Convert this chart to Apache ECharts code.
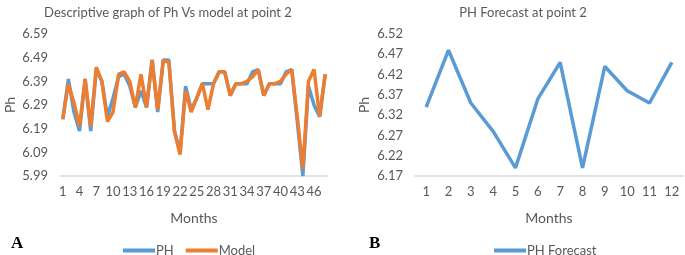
<!DOCTYPE html>
<html>
<head>
<meta charset="utf-8">
<script src="https://cdn.jsdelivr.net/npm/echarts@6/dist/echarts.min.js"></script>
<style>
  html, body { margin: 0; padding: 0; background: #fff; }
  #chart { width: 685px; height: 255px; }
</style>
</head>
<body>
<div id="chart"></div>
<script>
// left panel: measured pH vs model, 48 months
var monthsA = [];
for (var i = 1; i <= 48; i++) monthsA.push(String(i));
var phA = [6.23, 6.40, 6.26, 6.18, 6.40, 6.18, 6.44, 6.39, 6.24, 6.32,
           6.41, 6.42, 6.37, 6.28, 6.35, 6.28, 6.48, 6.26, 6.48, 6.48,
           6.18, 6.09, 6.37, 6.27, 6.32, 6.38, 6.38, 6.38, 6.43, 6.43,
           6.33, 6.38, 6.38, 6.38, 6.43, 6.44, 6.33, 6.38, 6.38, 6.38,
           6.43, 6.44, 6.22, 5.99, 6.37, 6.29, 6.24, 6.42];
var modelA = [6.23, 6.38, 6.30, 6.20, 6.40, 6.20, 6.45, 6.39, 6.22, 6.26,
              6.42, 6.43, 6.39, 6.28, 6.42, 6.28, 6.48, 6.27, 6.48, 6.47,
              6.18, 6.08, 6.35, 6.26, 6.32, 6.38, 6.27, 6.38, 6.43, 6.43,
              6.33, 6.38, 6.38, 6.39, 6.41, 6.44, 6.33, 6.38, 6.38, 6.39,
              6.42, 6.44, 6.24, 6.02, 6.39, 6.44, 6.24, 6.42];
var ticksA = [5.99, 6.09, 6.19, 6.29, 6.39, 6.49, 6.59];

// right panel: forecast, 12 months
var monthsB = ['1', '2', '3', '4', '5', '6', '7', '8', '9', '10', '11', '12'];
var forecastB = [6.34, 6.48, 6.35, 6.28, 6.19, 6.36, 6.45, 6.19, 6.44, 6.38, 6.35, 6.45];
var ticksB = [6.17, 6.22, 6.27, 6.32, 6.37, 6.42, 6.47, 6.52];

var font = 'Lato, "Open Sans", sans-serif';
var grey = '#595959';

function xAxisOf(idx, data, labelInterval) {
    return {
        type: 'category',
        gridIndex: idx,
        data: data,
        boundaryGap: true,
        name: 'Months',
        nameLocation: 'middle',
        nameGap: 35,
        nameTextStyle: { color: grey, fontSize: 14, fontFamily: font },
        axisLine: { lineStyle: { color: '#d9d9d9', width: 1.5 } },
        axisTick: { show: false },
        axisLabel: { interval: labelInterval, color: grey, fontSize: 13, fontFamily: font, margin: 9 }
    };
}

function yAxisOf(idx, ticks, gap) {
    return {
        type: 'value',
        gridIndex: idx,
        min: ticks[0],
        max: ticks[ticks.length - 1],
        name: 'Ph',
        nameLocation: 'middle',
        nameRotate: 90,
        nameGap: gap,
        nameTextStyle: { color: grey, fontSize: 14, fontFamily: font },
        axisLine: { show: false },
        axisTick: { show: false },
        splitLine: { show: false },
        axisLabel: {
            customValues: ticks,
            color: grey, fontSize: 13, fontFamily: font, margin: 12,
            formatter: function (v) { return v.toFixed(2); }
        }
    };
}

var myChart = echarts.init(document.getElementById('chart'));
myChart.setOption({
    animation: false,
    title: [{
        text: 'Descriptive graph of Ph Vs model at point 2',
        left: 163, top: 1, textAlign: 'center',
        textStyle: { color: grey, fontSize: 13, fontWeight: 'normal', fontFamily: font }
    }, {
        text: 'PH Forecast at point 2',
        left: 518, top: 1, textAlign: 'center',
        textStyle: { color: grey, fontSize: 13, fontWeight: 'normal', fontFamily: font }
    }],
    legend: [{
        data: ['PH', 'Model'],
        left: 118, top: 239,
        icon: 'rect', itemWidth: 32, itemHeight: 4, itemGap: 12,
        textStyle: { color: grey, fontSize: 13, fontFamily: font, padding: [0, 0, 0, -4] }
    }, {
        data: ['PH Forecast'],
        left: 489, top: 239,
        icon: 'rect', itemWidth: 32, itemHeight: 4,
        textStyle: { color: grey, fontSize: 13, fontFamily: font, padding: [0, 0, 0, -4] }
    }],
    grid: [
        { left: 60, width: 268, top: 34, height: 142 },
        { left: 415, width: 268, top: 34, height: 142 }
    ],
    xAxis: [xAxisOf(0, monthsA, 2), xAxisOf(1, monthsB, 0)],
    yAxis: [yAxisOf(0, ticksA, 43), yAxisOf(1, ticksB, 44)],
    series: [{
        name: 'PH', type: 'line', xAxisIndex: 0, yAxisIndex: 0,
        data: phA, symbol: 'none',
        lineStyle: { color: '#5b9bd5', width: 3.5 }, itemStyle: { color: '#5b9bd5' }
    }, {
        name: 'Model', type: 'line', xAxisIndex: 0, yAxisIndex: 0,
        data: modelA, symbol: 'none',
        lineStyle: { color: '#ed7d31', width: 3.5 }, itemStyle: { color: '#ed7d31' }
    }, {
        name: 'PH Forecast', type: 'line', xAxisIndex: 1, yAxisIndex: 1,
        data: forecastB, symbol: 'none',
        lineStyle: { color: '#5b9bd5', width: 3.5 }, itemStyle: { color: '#5b9bd5' }
    }],
    graphic: [{
        type: 'text', left: 11, top: 235,
        style: { text: 'A', font: 'bold 17px "Liberation Serif", serif', fill: '#000' }
    }, {
        type: 'text', left: 369, top: 235,
        style: { text: 'B', font: 'bold 17px "Liberation Serif", serif', fill: '#000' }
    }]
});
</script>
</body>
</html>
